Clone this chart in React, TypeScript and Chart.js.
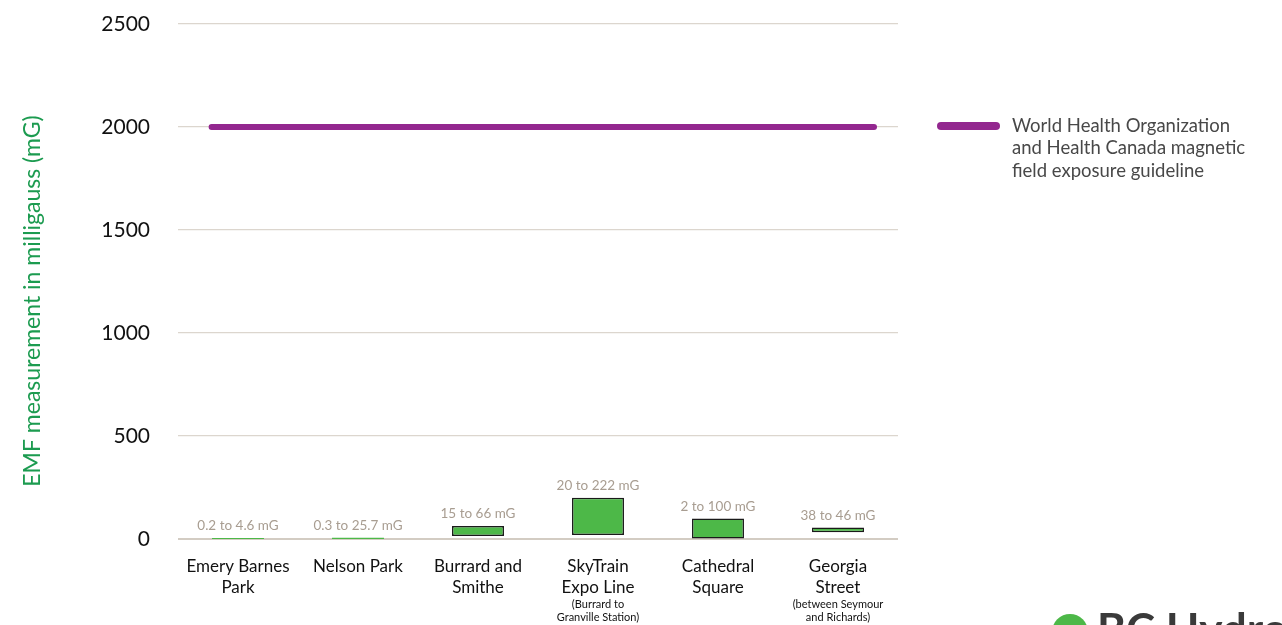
import React, { useEffect, useRef } from "react";
import { Chart, registerables } from "chart.js";

Chart.register(...registerables);

const categories = ["Emery Barnes Park", "Nelson Park", "Burrard and Smithe", "SkyTrain Expo Line", "Cathedral Square", "Georgia Street"];
const mainLabels: string[][] = [["Emery Barnes", "Park"], ["Nelson Park"], ["Burrard and", "Smithe"], ["SkyTrain", "Expo Line"], ["Cathedral", "Square"], ["Georgia", "Street"]];
const subLabels: string[][] = [[], [], [], ["(Burrard to", "Granville Station)"], [], ["(between Seymour", "and Richards)"]];
const positions = [0, 1, 2, 3, 4, 5];
const rangeMin = [0.2, 0.3, 15, 20, 2, 33];
const rangeMax = [4.6, 6, 63, 200, 100, 56];
const rangeLabels = ["0.2 to 4.6 mG", "0.3 to 25.7 mG", "15 to 66 mG", "20 to 222 mG", "2 to 100 mG", "38 to 46 mG"];
const guidelineValue = 2000;
const guidelineSpan = [-0.22, 5.3];
const legendLines = ["World Health Organization", "and Health Canada magnetic", "field exposure guideline"];
const yTitle = "EMF measurement in milligauss (mG)";
const yTicks = [0, 500, 1000, 1500, 2000, 2500];

const FONT = "Lato, 'Open Sans', sans-serif";

const overlay = {
  id: "overlay",
  afterDatasetsDraw(chart: any) {
    const ctx = chart.ctx;
    const meta = chart.getDatasetMeta(0);
    const area = chart.chartArea;
    ctx.save();
    ctx.textAlign = "center";
    ctx.textBaseline = "middle";
    // bar value labels
    ctx.font = `13.5px ${FONT}`;
    ctx.fillStyle = "#a89d91";
    meta.data.forEach((bar: any, i: number) => {
      const top = Math.min(bar.y, bar.base);
      ctx.fillText(rangeLabels[i], bar.x, top - 12);
    });
    // category labels
    meta.data.forEach((bar: any, i: number) => {
      ctx.font = `17px ${FONT}`;
      ctx.fillStyle = "#111";
      mainLabels[i].forEach((t, j) => ctx.fillText(t, bar.x, area.bottom + 28 + j * 21));
      ctx.font = `11px ${FONT}`;
      subLabels[i].forEach((t, j) => ctx.fillText(t, bar.x, area.bottom + 65 + j * 13));
    });
    // y title
    ctx.save();
    ctx.translate(33, 301);
    ctx.rotate(-Math.PI / 2);
    ctx.font = `23px ${FONT}`;
    ctx.fillStyle = "#1c9b50";
    ctx.fillText(yTitle, 0, 0);
    ctx.restore();
    // legend
    ctx.strokeStyle = "#93278f";
    ctx.lineWidth = 8;
    ctx.lineCap = "round";
    ctx.beginPath();
    ctx.moveTo(941, 126);
    ctx.lineTo(996, 126);
    ctx.stroke();
    ctx.font = `18.5px ${FONT}`;
    ctx.fillStyle = "#484848";
    ctx.textAlign = "left";
    legendLines.forEach((t, j) => ctx.fillText(t, 1012, 126 + j * 22.5));
    // logo
    ctx.fillStyle = "#4db848";
    ctx.beginPath();
    ctx.arc(1070, 632, 18, 0, Math.PI * 2);
    ctx.fill();
    ctx.fillStyle = "#3a3a3a";
    ctx.font = `bold 44px ${FONT}`;
    ctx.textBaseline = "alphabetic";
    ctx.fillText("BC Hydro", 1097, 645);
    ctx.restore();
  },
};

export default function App() {
  const ref = useRef<HTMLCanvasElement>(null);
  useEffect(() => {
    const chart = new Chart(ref.current as HTMLCanvasElement, {
      type: "bar",
      data: {
        datasets: [
          {
            type: "bar",
            label: categories.join(", "),
            data: positions.map((x, i) => ({ x, y: [rangeMin[i], rangeMax[i]] })) as any,
            backgroundColor: "#4db848",
            borderColor: "#1a1a1a",
            borderWidth: rangeMax.map((v) => (v < 10 ? 0 : 1.5)),
            borderSkipped: false,
            grouped: false,
            barPercentage: 0.433,
            categoryPercentage: 1,
            order: 2,
          } as any,
          {
            type: "line",
            data: guidelineSpan.map((x) => ({ x, y: guidelineValue })) as any,
            borderColor: "#93278f",
            borderWidth: 6,
            borderCapStyle: "round",
            pointRadius: 0,
            order: 1,
          } as any,
        ],
      },
      options: {
        responsive: false,
        animation: false,
        layout: { padding: { left: 0, top: 24, right: 384, bottom: 0 } },
        plugins: { legend: { display: false }, tooltip: { enabled: false } },
        scales: {
          x: {
            type: "linear",
            min: -0.5,
            max: 5.5,
            offset: false,
            afterBuildTicks: (s: any) => { s.ticks = positions.map((v) => ({ value: v })); },
            grid: { display: false },
            border: { display: false },
            ticks: { display: false },
            afterFit: (s: any) => { s.height = 86; },
          },
          y: {
            min: 0,
            max: 2500,
            afterBuildTicks: (s: any) => { s.ticks = yTicks.map((v) => ({ value: v })); },
            border: { display: false },
            grid: {
              drawTicks: false,
              color: (c: any) => (c.tick && c.tick.value === 0 ? "#d3ccc3" : "#dcd6ce"),
              lineWidth: (c: any) => (c.tick && c.tick.value === 0 ? 2 : 1.3),
            },
            ticks: {
              padding: 28,
              color: "#111",
              font: { size: 21, family: FONT },
              callback: (v: any) => String(v),
            },
            afterFit: (s: any) => { s.width = 178; s.paddingTop = 0; s.paddingBottom = 0; },
          },
        },
      } as any,
      plugins: [overlay],
    });
    return () => chart.destroy();
  }, []);
  return (
    <div style={{ position: "fixed", left: 0, top: 0, width: 1282, height: 625, background: "#fff" }}>
      <canvas ref={ref} width={1282} height={625} style={{ display: "block" }} />
    </div>
  );
}
